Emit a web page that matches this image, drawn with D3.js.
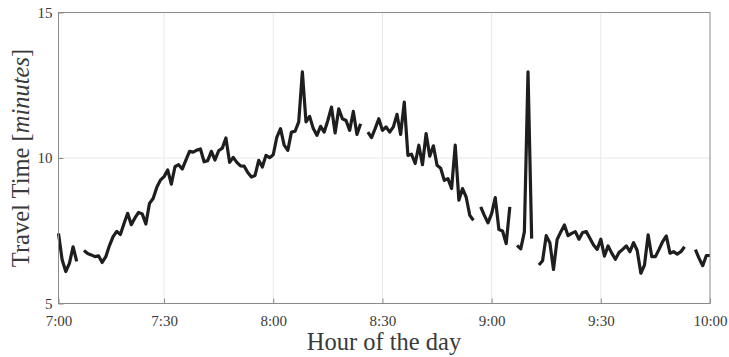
<!DOCTYPE html>
<html>
<head>
<meta charset="utf-8">
<script src="https://cdn.jsdelivr.net/npm/d3@7"></script>
<style>
  html, body { margin: 0; padding: 0; background: #fff; }
  svg text { font-family: "Liberation Serif", "DejaVu Serif", serif; }
</style>
</head>
<body>
<svg id="chart" width="729" height="357"></svg>
<script>
// minutes after 7:00, one sample per minute (null = no data)
const minutes = d3.range(1, 181);
const travelTime = [
  7.41, 6.5, 6.1, 6.38, 6.95, 6.45, null, 6.82, 6.72, 6.67,
  6.61, 6.64, 6.41, 6.61, 6.99, 7.3, 7.48, 7.37, 7.75, 8.1,
  7.71, 7.94, 8.13, 8.08, 7.73, 8.44, 8.61, 8.99, 9.24, 9.36,
  9.59, 9.1, 9.7, 9.77, 9.62, 9.93, 10.23, 10.2, 10.27, 10.31,
  9.87, 9.91, 10.23, 9.93, 10.25, 10.34, 10.69, 9.85, 10.02, 9.85,
  9.73, 9.72, 9.5, 9.35, 9.4, 9.92, 9.69, 10.09, 10.01, 10.11,
  10.72, 11.01, 10.44, 10.26, 10.89, 10.92, 11.24, 12.96, 11.24, 11.43,
  11.01, 10.78, 11.09, 10.89, 11.29, 11.75, 10.86, 11.69, 11.35, 11.29,
  10.95, 11.6, 10.81, 11.18, null, 10.89, 10.7, 11.01, 11.35, 10.95,
  11.07, 10.89, 11.07, 11.5, 10.81, 11.92, 10.09, 10.13, 9.81, 10.44,
  9.77, 10.84, 10.06, 10.42, 9.75, 9.65, 9.23, 9.29, 8.95, 10.44,
  8.55, 8.95, 8.66, 8.03, 7.86, null, 8.32, 8.03, 7.77, 8.09,
  8.64, 7.54, 7.49, 7.06, 8.32, null, 7.0, 6.88, 7.46, 12.96,
  7.23, null, 6.32, 6.47, 7.33, 7.09, 6.17, 7.2, 7.46, 7.7,
  7.33, 7.41, 7.47, 7.21, 7.44, 7.47, 7.24, 7.01, 6.86, 7.21,
  6.63, 6.98, 6.73, 6.52, 6.75, 6.86, 6.98, 6.78, 7.09, 6.82,
  6.04, 6.32, 7.36, 6.61, 6.61, 6.86, 7.13, 7.32, 6.73, 6.78,
  6.7, 6.78, 6.95, null, null, 6.85, 6.55, 6.3, 6.65, 6.65
];

const xTickValues = [1, 30, 60, 90, 120, 150, 180];
const xTickLabels = ["7:00", "7:30", "8:00", "8:30", "9:00", "9:30", "10:00"];
const yTickValues = [5, 10, 15];

// plot box
const plotLeft = 58.5, plotRight = 710, plotTop = 12.5, plotBottom = 303.5;
const axisColor = "#8a8a8a";
const gridColor = "#e8e8e8";
const textColor = "#3a3a3a";

const svg = d3.select("#chart");

const x = d3.scaleLinear().domain([1, 180]).range([plotLeft, plotRight]);
const y = d3.scaleLinear().domain([5, 15]).range([plotBottom, plotTop]);

// grid lines
svg.append("g")
  .selectAll("line")
  .data(xTickValues.slice(1, -1))
  .join("line")
  .attr("x1", d => x(d)).attr("x2", d => x(d))
  .attr("y1", plotTop).attr("y2", plotBottom)
  .attr("stroke", gridColor).attr("stroke-width", 1);

svg.append("g")
  .selectAll("line")
  .data(yTickValues.slice(1, -1))
  .join("line")
  .attr("x1", plotLeft).attr("x2", plotRight)
  .attr("y1", d => y(d)).attr("y2", d => y(d))
  .attr("stroke", gridColor).attr("stroke-width", 1);

// data line (gaps where null)
const line = d3.line()
  .defined(d => d[1] !== null)
  .x(d => x(d[0]))
  .y(d => y(d[1]));

svg.append("path")
  .datum(minutes.map((m, i) => [m, travelTime[i]]))
  .attr("fill", "none")
  .attr("stroke", "#1e1e1e")
  .attr("stroke-width", 3.2)
  .attr("stroke-linejoin", "round")
  .attr("d", line);

// box
svg.append("rect")
  .attr("x", plotLeft).attr("y", plotTop)
  .attr("width", plotRight - plotLeft).attr("height", plotBottom - plotTop)
  .attr("fill", "none")
  .attr("stroke", axisColor).attr("stroke-width", 1);

// axes (inward ticks)
const xAxis = d3.axisBottom(x)
  .tickValues(xTickValues)
  .tickFormat((d, i) => xTickLabels[i])
  .tickSizeInner(-5).tickSizeOuter(0).tickPadding(12);

const gx = svg.append("g")
  .attr("transform", `translate(0,${plotBottom})`)
  .call(xAxis);
gx.select(".domain").remove();
gx.selectAll(".tick line").attr("stroke", axisColor);
gx.selectAll(".tick text")
  .attr("fill", textColor)
  .style("font-size", "15px");

const yAxis = d3.axisLeft(y)
  .tickValues(yTickValues)
  .tickSizeInner(-5).tickSizeOuter(0).tickPadding(6);

const gy = svg.append("g")
  .attr("transform", `translate(${plotLeft},0)`)
  .call(yAxis);
gy.select(".domain").remove();
gy.selectAll(".tick line").attr("stroke", axisColor);
gy.selectAll(".tick text")
  .attr("fill", textColor)
  .style("font-size", "15px");

// axis titles
svg.append("text")
  .attr("x", 384)
  .attr("y", 350)
  .attr("text-anchor", "middle")
  .attr("fill", textColor)
  .style("font-size", "24.5px")
  .text("Hour of the day");

const yLabel = svg.append("text")
  .attr("transform", `translate(29,${(plotTop + plotBottom) / 2}) rotate(-90)`)
  .attr("text-anchor", "middle")
  .attr("fill", textColor)
  .style("font-size", "24.5px");
yLabel.append("tspan").text("Travel Time [");
yLabel.append("tspan").style("font-style", "italic").text("minutes");
yLabel.append("tspan").text("]");
</script>
</body>
</html>
